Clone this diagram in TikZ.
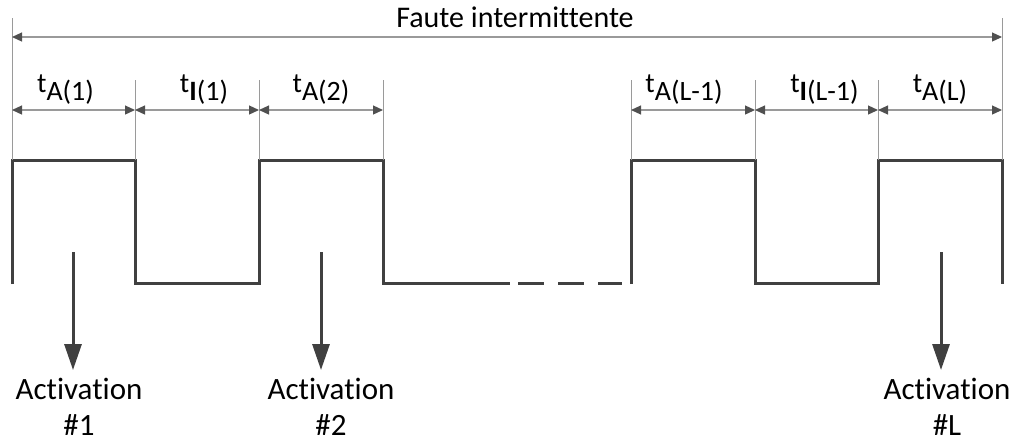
\documentclass[tikz,border=0pt]{standalone}
\usepackage{fontspec}
\setmainfont[Ligatures=NoCommon]{Carlito}
\usetikzlibrary{arrows.meta, calc}
\definecolor{sigcol}{HTML}{404040}
\definecolor{dimcol}{HTML}{9A9A9A}
\definecolor{tipcol}{HTML}{505050}
\newcommand{\tlab}[1]{t\raisebox{-4pt}{#1}}

\begin{document}
\begin{tikzpicture}[x=0.5pt, y=-0.5pt, font=\fontsize{14}{16}\selectfont,
  signal/.style={sigcol, line width=1.5pt, line join=miter},
  extline/.style={dimcol, line width=0.5pt},
  dimarrow/.style={dimcol, line width=0.6pt,
    {Triangle[length=5pt, width=4.5pt, color=tipcol]}-{Triangle[length=5pt, width=4.5pt, color=tipcol]}},
  actarrow/.style={sigcol, line width=1.5pt, shorten >=3pt, -{Triangle[length=13pt, width=8.5pt]}},
  actlabel/.style={align=center, font=\fontsize{15.5}{18}\selectfont, inner sep=1pt, anchor=north}]
  \useasboundingbox (0,0) rectangle (1016,441);

  % edges of the pulses (high level)
  \coordinate (e0) at (12,160);   \coordinate (e1) at (135,160);
  \coordinate (e2) at (259,160);  \coordinate (e3) at (383,160);
  \coordinate (e4) at (631,160);  \coordinate (e5) at (755,160);
  \coordinate (e6) at (878,160);  \coordinate (e7) at (1002,160);

  % signal
  \draw[signal] (12,284) -- (e0) -- (e1) -- (135,283) -- (259,283) -- (e2) -- (e3) -- (383,283) -- (510,283);
  \draw[signal, dash pattern=on 13pt off 7pt] (518,283) -- (622,283);
  \draw[signal] (631,284) -- (e4) -- (e5) -- (755,283) -- (878,283) -- (e6) -- (e7) -- (1002,284);

  % extension lines
  \coordinate (top0) at (12,18);  \coordinate (top7) at (1002,18);
  \draw[extline] (e0) -- (top0);
  \draw[extline] (e7) -- (top7);
  \foreach \e in {e1,e2,e3,e4,e5,e6}
    \draw[extline] (\e) -- ($(\e)+(0,-80)$);

  % overall duration
  \coordinate (f0) at (12,37); \coordinate (f1) at (1002,37);
  \draw[dimarrow] (f0) -- (f1);
  \node[anchor=base, font=\fontsize{15}{17}\selectfont] (faute) at (515,27) {Faute intermittente};

  % single durations
  \foreach \a/\b/\n in {e0/e1/d1, e1/e2/d2, e2/e3/d3, e4/e5/d4, e5/e6/d5, e6/e7/d6} {
    \coordinate (\n l) at ($(\a)+(0,-50)$);
    \coordinate (\n r) at ($(\b)+(0,-50)$);
    \draw[dimarrow] (\n l) -- (\n r);
  }
  \node[anchor=base] (lA1) at ($(d1l)!0.5!(d1r)+(-8,-18)$) {\tlab{A(1)}};
  \node[anchor=base] (lI1) at ($(d2l)!0.5!(d2r)+(7,-18)$) {\tlab{\textbf{I}(1)}};
  \node[anchor=base] (lA2) at ($(d3l)!0.5!(d3r)+(0,-18)$) {\tlab{A(2)}};
  \node[anchor=base] (lAL1) at ($(d4l)!0.5!(d4r)+(-9,-18)$) {\tlab{A(L-1)}};
  \node[anchor=base] (lIL1) at ($(d5l)!0.5!(d5r)+(8,-18)$) {\tlab{\textbf{I}(L-1)}};
  \node[anchor=base] (lAL) at ($(d6l)!0.5!(d6r)+(0,-18)$) {\tlab{A(L)}};

  % activations
  \coordinate (s1) at (73,252); \coordinate (s2) at (321,252); \coordinate (sL) at (941,252);
  \node[actlabel] (act1) at (79,376) {Activation\\\#1};
  \node[actlabel] (act2) at (331,376) {Activation\\\#2};
  \node[actlabel] (actL) at (947,376) {Activation\\\#L};
  \draw[actarrow] (s1) -- (s1 |- act1.north);
  \draw[actarrow] (s2) -- (s2 |- act2.north);
  \draw[actarrow] (sL) -- (sL |- actL.north);
\end{tikzpicture}
\end{document}
